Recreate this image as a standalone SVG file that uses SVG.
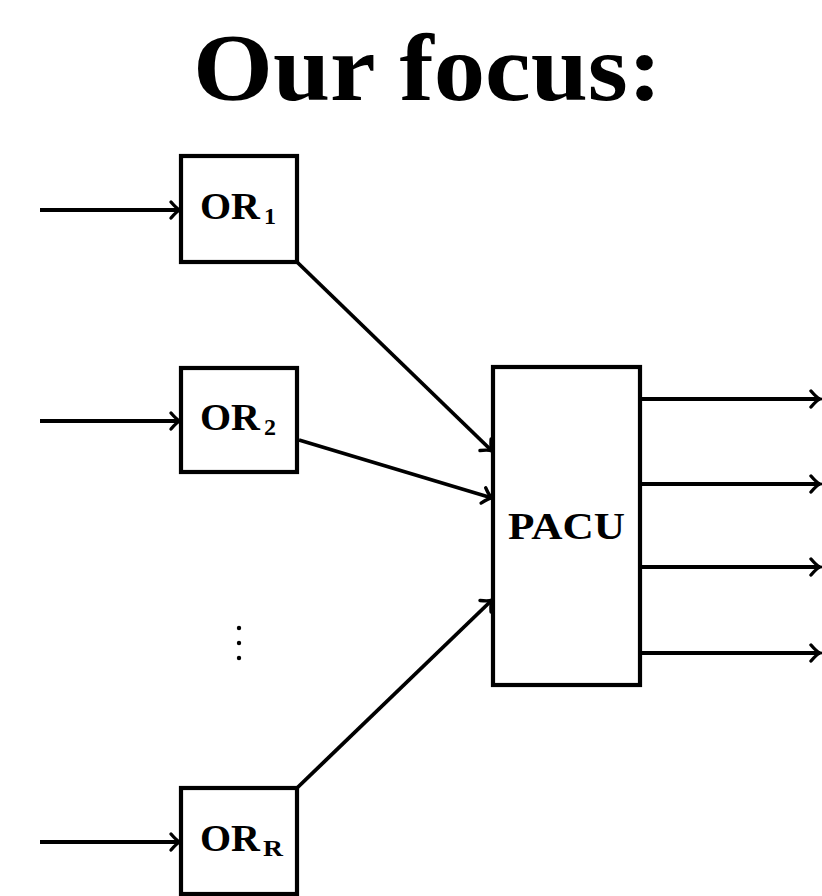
<svg xmlns="http://www.w3.org/2000/svg" width="822" height="896" viewBox="0 0 822 896">
<defs>
<marker id="arr" markerUnits="userSpaceOnUse" markerWidth="20" markerHeight="20" viewBox="-14 -10 16 20" refX="0" refY="0" orient="auto" overflow="visible">
<path d="M -9 -8 Q -3 -1 0 0 Q -3 1 -9 8" fill="none" stroke="#000" stroke-width="3.4" stroke-linecap="round"/>
</marker>
</defs>
<style>
.box{fill:#fff;stroke:#000;stroke-width:4.2}
.ln{fill:none;stroke:#000;stroke-width:3.8;marker-end:url(#arr)}
.lbl{font-family:"Liberation Serif","DejaVu Serif",serif;font-weight:bold;fill:#000}
.sub{font-size:24px}
</style>
<rect width="822" height="896" fill="#fff"/>
<text class="lbl" x="193" y="100" font-size="96" textLength="469" lengthAdjust="spacingAndGlyphs">Our focus:</text>
<g id="connectors">
<line class="ln" x1="40" y1="210" x2="180" y2="210"/>
<line class="ln" x1="40" y1="421" x2="180" y2="421"/>
<line class="ln" x1="40" y1="842" x2="180" y2="842"/>
<line class="ln" x1="297" y1="262" x2="492" y2="451"/>
<line class="ln" x1="299" y1="440" x2="492" y2="498"/>
<line class="ln" x1="297" y1="788" x2="492" y2="600"/>
<line class="ln" x1="640" y1="399" x2="820" y2="399"/>
<line class="ln" x1="640" y1="484" x2="820" y2="484"/>
<line class="ln" x1="640" y1="567" x2="820" y2="567"/>
<line class="ln" x1="640" y1="653" x2="820" y2="653"/>
</g>
<g id="or1">
<rect class="box" x="181" y="156" width="116" height="106"/>
<text class="lbl" font-size="37"><tspan x="200" y="219" textLength="60" lengthAdjust="spacingAndGlyphs">OR</tspan><tspan class="sub" x="264" y="224">1</tspan></text>
</g>
<g id="or2">
<rect class="box" x="181" y="368" width="116" height="104"/>
<text class="lbl" font-size="37"><tspan x="200" y="430" textLength="60" lengthAdjust="spacingAndGlyphs">OR</tspan><tspan class="sub" x="264" y="435">2</tspan></text>
</g>
<g id="orR">
<rect class="box" x="181" y="788" width="116" height="106"/>
<text class="lbl" font-size="37"><tspan x="200" y="851" textLength="60" lengthAdjust="spacingAndGlyphs">OR</tspan><tspan class="sub" x="263" y="856" textLength="20" lengthAdjust="spacingAndGlyphs">R</tspan></text>
</g>
<g id="dots">
<circle cx="239" cy="628" r="2.2"/>
<circle cx="239" cy="643" r="2.2"/>
<circle cx="239" cy="658" r="2.2"/>
</g>
<g id="pacu">
<rect class="box" x="493" y="367" width="147" height="318"/>
<text class="lbl" x="508" y="539" font-size="37" textLength="117" lengthAdjust="spacingAndGlyphs">PACU</text>
</g>
</svg>
